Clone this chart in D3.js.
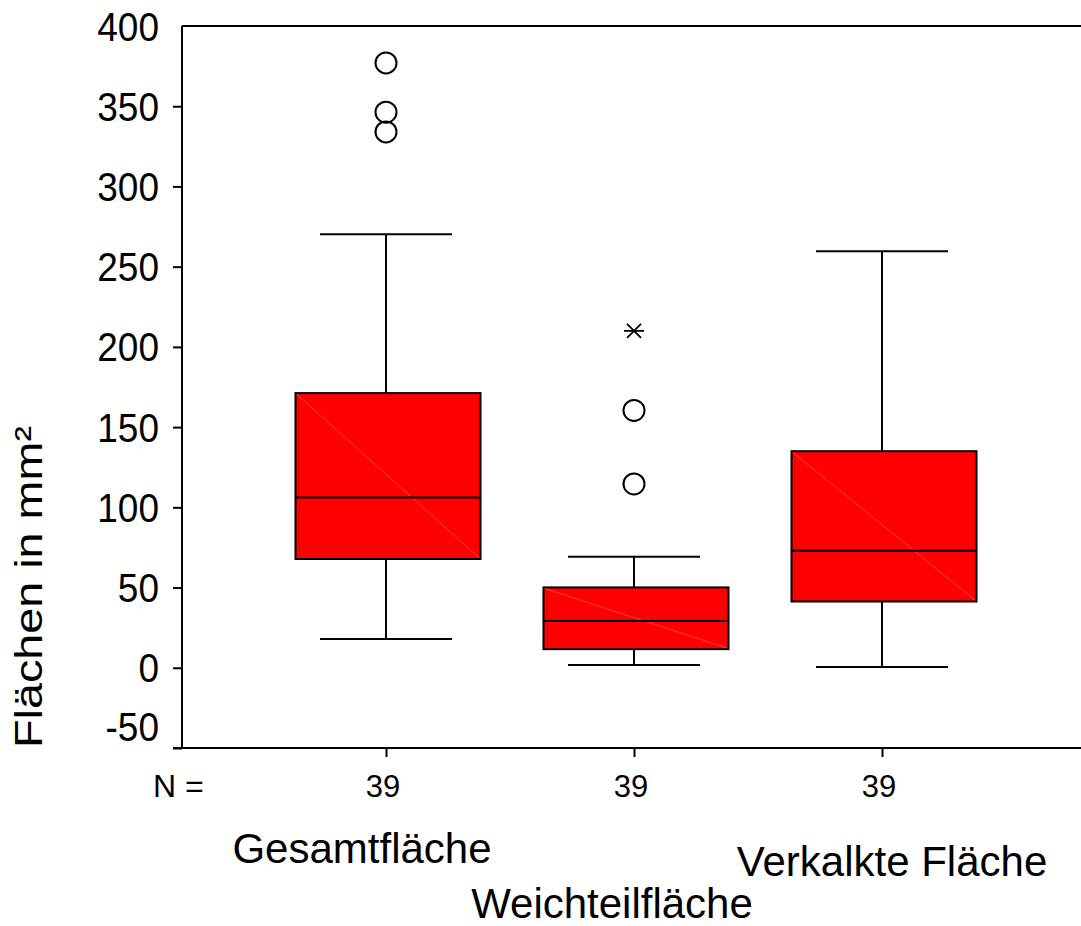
<!DOCTYPE html>
<html>
<head>
<meta charset="utf-8">
<script src="https://cdn.jsdelivr.net/npm/d3@7"></script>
<style>
  html, body { margin: 0; padding: 0; background: #fff; }
  svg { display: block; }
  text { font-family: "Liberation Sans", Arial, sans-serif; fill: #000; }
</style>
</head>
<body>
<svg id="chart" width="1081" height="926"></svg>
<script>
// ---- data ----
const categories = ["Gesamtfläche", "Weichteilfläche", "Verkalkte Fläche"];
const nCounts = [39, 39, 39];
const q1Values = [67.8, 11.6, 41.3];
const medianValues = [106.2, 29.1, 73];
const q3Values = [171.2, 50.1, 135];
const whiskerLow = [18, 1.8, 0.5];
const whiskerHigh = [270.2, 69.2, 259.6];
const outlierCategory = ["Gesamtfläche", "Gesamtfläche", "Gesamtfläche", "Weichteilfläche", "Weichteilfläche"];
const outlierValue = [377, 346.3, 334, 160.4, 114.6];
const extremeCategory = ["Weichteilfläche"];
const extremeValue = [210];
const yTickValues = [-50, 0, 50, 100, 150, 200, 250, 300, 350, 400];
const yTitle = "Flächen in mm²";
const nLabel = "N =";

// ---- layout ----
const svg = d3.select("#chart");
const plotLeft = 182, plotRight = 1081, plotTop = 26, plotBottom = 748;
const boxWidth = 185, capHalf = 66;

const y = d3.scaleLinear().domain([-50, 400]).range([plotBottom, plotTop]);
const x = d3.scalePoint().domain(categories).range([386, 882]);

const boxes = categories.map((c, i) => ({
  cat: c, n: nCounts[i], q1: q1Values[i], med: medianValues[i], q3: q3Values[i],
  lo: whiskerLow[i], hi: whiskerHigh[i]
}));

// ---- y axis ----
const yAxis = d3.axisLeft(y).tickValues(yTickValues).tickSize(9).tickPadding(14)
  .tickFormat(d => String(d));
const gy = svg.append("g").attr("transform", `translate(${plotLeft},0)`).call(yAxis);
gy.select(".domain").remove();
gy.selectAll(".tick line").attr("stroke", "#000").attr("stroke-width", 2);
gy.selectAll(".tick text").style("font-size", "37px").attr("fill", "#000")
  .attr("transform", "scale(1,1.08)")
  .attr("dy", null)
  .attr("y", 0)
  .attr("dominant-baseline", "central");
// SPSS shifts the lowest label up to stay inside the frame
gy.selectAll(".tick").filter(d => d === -50).select("text").attr("y", -20);
gy.selectAll(".tick").filter(d => d === 400).select("line").remove();

// frame lines
svg.append("line").attr("x1", plotLeft).attr("x2", plotLeft).attr("y1", plotTop).attr("y2", plotBottom)
  .attr("stroke", "#000").attr("stroke-width", 2);
svg.append("line").attr("x1", plotLeft).attr("x2", plotRight).attr("y1", plotTop).attr("y2", plotTop)
  .attr("stroke", "#000").attr("stroke-width", 2);
svg.append("line").attr("x1", plotLeft - 9).attr("x2", plotRight).attr("y1", plotBottom).attr("y2", plotBottom)
  .attr("stroke", "#000").attr("stroke-width", 2);

// ---- x axis ticks ----
const xAxis = d3.axisBottom(x).tickSize(9).tickFormat(() => "");
const gx = svg.append("g").attr("transform", `translate(0,${plotBottom})`).call(xAxis);
gx.select(".domain").remove();
gx.selectAll(".tick line").attr("stroke", "#000").attr("stroke-width", 2);

// ---- boxes ----
const gb = svg.append("g").selectAll("g").data(boxes).join("g");
gb.append("line").attr("x1", d => x(d.cat)).attr("x2", d => x(d.cat))
  .attr("y1", d => y(d.q3)).attr("y2", d => y(d.hi)).attr("stroke", "#000").attr("stroke-width", 2);
gb.append("line").attr("x1", d => x(d.cat)).attr("x2", d => x(d.cat))
  .attr("y1", d => y(d.q1)).attr("y2", d => y(d.lo)).attr("stroke", "#000").attr("stroke-width", 2);
gb.append("line").attr("x1", d => x(d.cat) - capHalf).attr("x2", d => x(d.cat) + capHalf)
  .attr("y1", d => y(d.hi)).attr("y2", d => y(d.hi)).attr("stroke", "#000").attr("stroke-width", 2);
gb.append("line").attr("x1", d => x(d.cat) - capHalf).attr("x2", d => x(d.cat) + capHalf)
  .attr("y1", d => y(d.lo)).attr("y2", d => y(d.lo)).attr("stroke", "#000").attr("stroke-width", 2);
gb.append("rect").attr("x", d => x(d.cat) - boxWidth / 2 + 2).attr("width", boxWidth)
  .attr("y", d => y(d.q3)).attr("height", d => y(d.q1) - y(d.q3))
  .attr("fill", "#ff0000").attr("stroke", "#000").attr("stroke-width", 2);
gb.append("line").attr("x1", d => x(d.cat) - boxWidth / 2 + 3).attr("x2", d => x(d.cat) + boxWidth / 2 + 1)
  .attr("y1", d => y(d.q3) + 1).attr("y2", d => y(d.q1) - 1)
  .attr("stroke", "#ff7070").attr("stroke-width", 0.6);
gb.append("line").attr("x1", d => x(d.cat) - boxWidth / 2 + 2).attr("x2", d => x(d.cat) + boxWidth / 2 + 2)
  .attr("y1", d => y(d.med)).attr("y2", d => y(d.med)).attr("stroke", "#000").attr("stroke-width", 2);

// ---- outliers ----
svg.append("g").selectAll("circle").data(outlierValue.map((v, i) => ({ cat: outlierCategory[i], v })))
  .join("circle").attr("cx", d => x(d.cat)).attr("cy", d => y(d.v)).attr("r", 10.5)
  .attr("fill", "none").attr("stroke", "#000").attr("stroke-width", 2);

// extremes (asterisk)
const extremes = extremeValue.map((v, i) => ({ cat: extremeCategory[i], v }));
const star = svg.append("g").selectAll("g").data(extremes).join("g")
  .attr("transform", d => `translate(${x(d.cat)},${y(d.v)})`);
star.append("path").attr("d", "M-10,0H10M-7,-7L7,7M-7,7L7,-7")
  .attr("stroke", "#000").attr("stroke-width", 1.8).attr("fill", "none");

// ---- N labels ----
svg.append("text").attr("x", 153).attr("y", 797).style("font-size", "32px").text(nLabel);
svg.append("g").selectAll("text").data(boxes).join("text")
  .attr("x", d => x(d.cat) - 3).attr("y", 797).attr("text-anchor", "middle")
  .style("font-size", "31px").text(d => d.n);

// ---- category labels (staggered) ----
const labelDx = [-24, -22, 10];
const labelY = [863, 918, 876];
svg.append("g").selectAll("text").data(categories).join("text")
  .attr("x", (d, i) => x(d) + labelDx[i]).attr("y", (d, i) => labelY[i])
  .attr("text-anchor", "middle").style("font-size", "42px").text(d => d);

// ---- y title ----
svg.append("text").attr("transform", "translate(42,587) rotate(-90)")
  .attr("text-anchor", "middle").style("font-size", "38px")
  .attr("textLength", 322).attr("lengthAdjust", "spacingAndGlyphs")
  .text(yTitle);
</script>
</body>
</html>
